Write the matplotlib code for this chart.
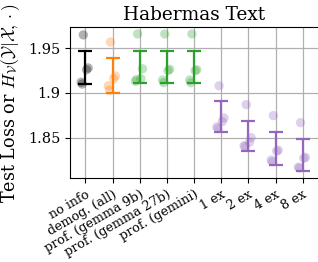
import matplotlib
matplotlib.use("Agg")
import matplotlib.pyplot as plt
import numpy as np

plt.rcParams['font.family'] = ['DejaVu Serif']
plt.rcParams['mathtext.fontset'] = 'cm'

categories = ["no info", "demog. (all)", "prof. (gemma 9b)", "prof. (gemma 27b)",
              "prof. (gemini)", "1 ex", "2 ex", "4 ex", "8 ex"]
point_values = [
    [1.965, 1.928, 1.926, 1.912, 1.910],
    [1.957, 1.919, 1.916, 1.908, 1.903],
    [1.966, 1.927, 1.916, 1.913, 1.915],
    [1.966, 1.9265, 1.925, 1.9145, 1.9115],
    [1.966, 1.926, 1.925, 1.9145, 1.9115],
    [1.908, 1.872, 1.868, 1.862, 1.860],
    [1.887, 1.850, 1.845, 1.841, 1.840],
    [1.8747, 1.836, 1.835, 1.825, 1.823],
    [1.8668, 1.828, 1.827, 1.817, 1.816],
]
bar_top = [1.947, 1.9388, 1.9473, 1.9473, 1.9473, 1.8908, 1.869, 1.8568, 1.8486]
bar_bottom = [1.9097, 1.8997, 1.911, 1.911, 1.911, 1.856, 1.8355, 1.820, 1.8132]
colors = ["black", "#ff7f0e", "#2ca02c", "#2ca02c", "#2ca02c",
          "#9467bd", "#9467bd", "#9467bd", "#9467bd"]
yticks = [1.85, 1.9, 1.95]
ytick_labels = ["1.85", "1.9", "1.95"]

jitter = [-0.08, 0.1, 0.04, -0.16, -0.12]

fig = plt.figure(figsize=(3.18, 2.62), dpi=100)
ax = fig.add_axes([70/318, 84/262, 249/318, 151/262])

x = np.arange(len(categories))
for i, vals in enumerate(point_values):
    ax.scatter(x[i] + np.array(jitter), vals, s=45, color=colors[i], alpha=0.3,
               edgecolors='none', zorder=2)
    mid = (bar_top[i] + bar_bottom[i]) / 2
    err = (bar_top[i] - bar_bottom[i]) / 2
    ax.errorbar(x[i], mid, yerr=err, color=colors[i], capsize=5, capthick=1.6,
                elinewidth=1.6, fmt='none', zorder=3)

ax.set_xlim(-0.57, 8.6)
ax.set_ylim(1.8049, 1.9738)
ax.set_yticks(yticks)
ax.set_yticklabels(ytick_labels, fontsize=10.5)
ax.set_xticks(x)
ax.set_xticklabels(categories, rotation=30, ha='right', rotation_mode='anchor', fontsize=9.2)
ax.grid(True, color='#b0b0b0', linewidth=0.9, zorder=0)
ax.set_axisbelow(True)
ax.spines['right'].set_visible(False)
ax.set_title("Habermas Text", fontsize=13.3, pad=5)
ax.set_ylabel(r"Test Loss or $H_{\mathcal{V}}(\mathcal{Y}|\mathcal{X},\cdot)$", fontsize=12.7)
ax.yaxis.set_label_coords(-0.193, 0.5)

fig.savefig("out.png", dpi=100)
